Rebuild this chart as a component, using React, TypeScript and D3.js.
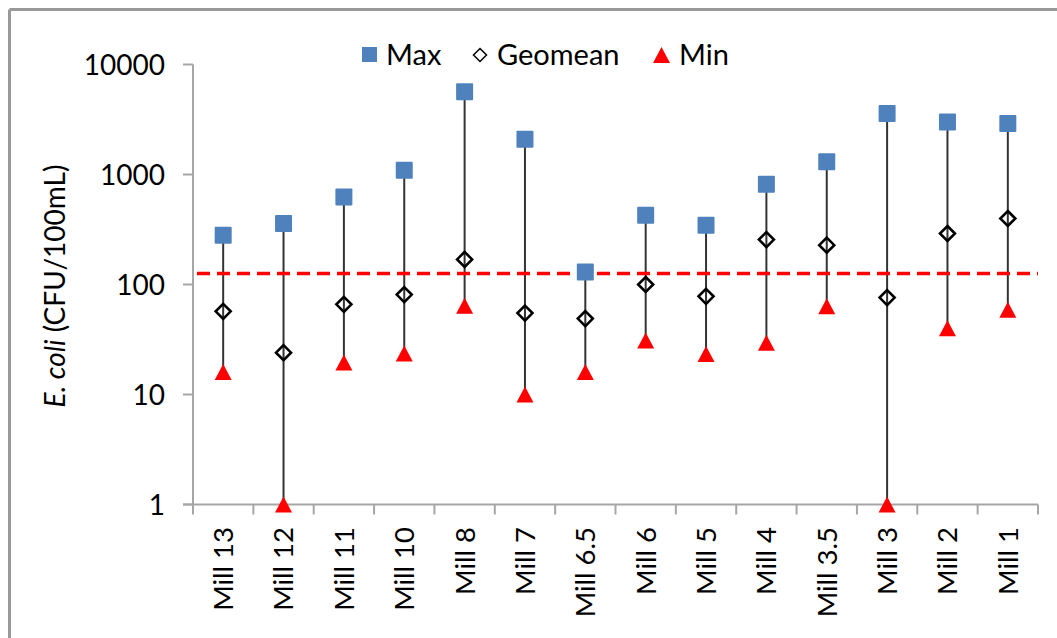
import React from "react";
import * as d3 from "d3";

const categories = ["Mill 13", "Mill 12", "Mill 11", "Mill 10", "Mill 8", "Mill 7", "Mill 6.5", "Mill 6", "Mill 5", "Mill 4", "Mill 3.5", "Mill 3", "Mill 2", "Mill 1"];
const maxValues = [281, 359, 626, 1094, 5640, 2090, 130, 427, 346, 816, 1303, 3590, 3006, 2910];
const geomeanValues = [57, 24, 66, 81, 169, 55, 49, 100, 78, 256, 228, 76, 291, 398];
const minValues = [16, 1, 19.5, 23.6, 64, 10, 16, 31, 23.3, 29.5, 63.5, 1, 40, 59];
const yTicks = [1, 10, 100, 1000, 10000];
const threshold = 126;

const W = 1057;
const H = 638;
const FONT = "Lato, 'Open Sans', sans-serif";

export default function App() {
  const x = d3.scaleBand<string>().domain(categories).range([193, 1038]);
  const y = d3.scaleLog().domain([1, 10000]).range([504.5, 64.5]);
  const cx = (c: string) => (x(c) as number) + x.bandwidth() / 2;
  const axisColor = "#a6a6a6";

  const triPath = (w: number, h: number) => `M0,${-h / 2}L${w / 2},${h / 2}L${-w / 2},${h / 2}Z`;
  const diaPath = (w: number) => `M0,${-w / 2}L${w / 2},0L0,${w / 2}L${-w / 2},0Z`;

  return (
    <svg width={W} height={H} style={{ position: "fixed", left: 0, top: 0, background: "#fff" }} fontFamily={FONT}>
      <rect x={0} y={0} width={W} height={H} fill="#fff" />
      {/* outer frame */}
      <line x1={9.5} y1={9.5} x2={W} y2={9.5} stroke="#999" strokeWidth={3} />
      <line x1={9.5} y1={9.5} x2={9.5} y2={H} stroke="#999" strokeWidth={3} />

      {/* y axis */}
      <line x1={193} x2={193} y1={y(10000)} y2={y(1) + 0.5} stroke={axisColor} strokeWidth={2} />
      {yTicks.map((t) => (
        <g key={t}>
          <line x1={183} x2={193} y1={y(t)} y2={y(t)} stroke={axisColor} strokeWidth={2} />
          <text x={165} y={y(t)} dy="0.36em" textAnchor="end" fontSize={28} fill="#000">
            {t}
          </text>
        </g>
      ))}
      {/* x axis */}
      <line x1={183} x2={1038} y1={y(1)} y2={y(1)} stroke={axisColor} strokeWidth={2} />
      {d3.range(categories.length + 1).map((i) => {
        const xx = 193 + i * x.step();
        return <line key={i} x1={xx} x2={xx} y1={y(1)} y2={y(1) + 10} stroke={axisColor} strokeWidth={2} />;
      })}
      {categories.map((c) => (
        <text
          key={c}
          transform={`translate(${cx(c)},527) rotate(-90)`}
          dy="0.36em"
          textAnchor="end"
          fontSize={27.5}
          fill="#000"
        >
          {c}
        </text>
      ))}

      {/* y label */}
      <text transform={`translate(55,286) rotate(-90)`} dy="0.36em" textAnchor="middle" fontSize={28} fill="#000">
        <tspan fontStyle="italic">E. coli</tspan>
        <tspan> (CFU/100mL)</tspan>
      </text>

      {/* range lines */}
      {categories.map((c, i) => (
        <line key={c} x1={cx(c)} x2={cx(c)} y1={y(maxValues[i])} y2={y(minValues[i])} stroke="#333" strokeWidth={2} />
      ))}

      {/* threshold */}
      <line x1={197} x2={1038} y1={y(threshold)} y2={y(threshold)} stroke="#ff0000" strokeWidth={3.5} strokeDasharray="13,7" />

      {/* markers */}
      {categories.map((c, i) => (
        <rect key={c} x={cx(c) - 8.5} y={y(maxValues[i]) - 8.5} width={17} height={17} rx={1} fill="#4f81bd" />
      ))}
      {categories.map((c, i) => (
        <path key={c} d={diaPath(15)} transform={`translate(${cx(c)},${y(geomeanValues[i])})`} fill="none" stroke="#000" strokeWidth={2.6} />
      ))}
      {categories.map((c, i) => (
        <path key={c} d={triPath(17, 16)} transform={`translate(${cx(c)},${y(minValues[i])})`} fill="#ff0000" />
      ))}

      {/* legend */}
      <g>
        <rect x={362} y={47} width={15} height={15} fill="#4f81bd" />
        <text x={386} y={55} dy="0.36em" fontSize={29} fill="#000">Max</text>
        <path d={diaPath(13)} transform="translate(480,55)" fill="none" stroke="#000" strokeWidth={1.5} />
        <text x={497} y={55} dy="0.36em" fontSize={29} fill="#000">Geomean</text>
        <path d={triPath(17, 16)} transform="translate(661.5,55)" fill="#ff0000" />
        <text x={679} y={55} dy="0.36em" fontSize={29} fill="#000">Min</text>
      </g>
    </svg>
  );
}
